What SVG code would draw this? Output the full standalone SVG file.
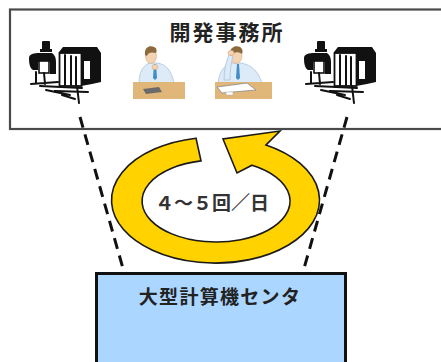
<svg xmlns="http://www.w3.org/2000/svg" width="441" height="362" viewBox="0 0 441 362">
  <style>
    .office { fill: #ffffff; stroke: #4a4a4a; stroke-width: 2.2; }
    .center { fill: #aad6ff; stroke: #111111; stroke-width: 3; }
    .link { fill: none; stroke: #111111; stroke-width: 3; stroke-dasharray: 11 7; }
    .cycle { fill: #ffd200; stroke: #1a1a1a; stroke-width: 1.6; stroke-linejoin: miter; }
    .label { font-family: "Noto Sans CJK JP", "Noto Sans", sans-serif; fill: #222222; text-anchor: middle; }
    .title { font-size: 21px; font-weight: bold; letter-spacing: 2px; }
    .rate { font-size: 19px; font-weight: bold; fill: #333333; }
    .ink { fill: #111111; }
    .ink-line { fill: none; stroke: #111111; stroke-width: 2; stroke-linecap: round; }
    .shirt { fill: #dcebf7; stroke: #a9c3da; stroke-width: 0.8; }
    .skin { fill: #f4d3b3; stroke: #d7a985; stroke-width: 0.6; }
    .hair { fill: #8c6a3d; }
    .tie { fill: #3f8cc6; }
    .desk { fill: #e0b679; }
  </style>
  <defs>
    <!-- workstation clip-art: operator on the left, monitor on the right -->
    <g id="workstation">
      <!-- operator -->
      <rect class="ink" x="42" y="41" width="8" height="9" rx="1"/>
      <rect class="ink" x="40" y="49" width="12" height="3"/>
      <path class="ink" d="M29,58 C29,54 34,53 40,53 L52,53 C55,55 56,58 56,62 L56,74 L50,74 L50,62 L38,62 L38,70 L33,70 C30,68 29,64 29,58 Z"/>
      <rect x="39" y="61" width="10" height="12" fill="#ffffff" stroke="#111" stroke-width="1.6"/>
      <path class="ink-line" d="M36,72 L36,83 M44,73 L45,84 M31,84 L58,82"/>
      <!-- keyboard / desk lines -->
      <path class="ink-line" stroke-width="1.5" d="M40,86 L82,88 M46,90 L70,95 M55,91 L88,92 M62,95 L75,99"/>
      <!-- monitor -->
      <path class="ink" d="M59,52 L63,47 L97,47 L101,53 L101,58 L82,58 L59,55 Z"/>
      <rect x="59.5" y="53" width="22" height="33" fill="#ffffff" stroke="#111" stroke-width="1.8"/>
      <path class="ink-line" stroke-width="1.6" d="M65,55 L65,85 M71,56 L71,85 M76,57 L76,85"/>
      <path class="ink" d="M81,57 L101,57 L101,82 L92,84 L81,86 Z"/>
      <rect x="84" y="61" width="6" height="18" fill="#ffffff"/>
      <!-- stand -->
      <path class="ink-line" stroke-width="2.6" d="M77,86 L79,103"/>
    </g>
  </defs>

  <!-- development office -->
  <g id="office">
    <rect class="office" x="10" y="9.5" width="440" height="119.5"/>
    <text class="label title" x="227" y="40">開発事務所</text>
    <use href="#workstation"/>
    <use href="#workstation" transform="translate(275,0)"/>
    <!-- engineer resting chin on hand -->
    <g id="engineer-left">
      <path class="shirt" d="M139,84 C139,72 143,65 150,63 L157,63 C166,64 172,71 174,84 Z"/>
      <path class="tie" d="M154,64 L156,64 L157,78 L155,80 L153,78 Z"/>
      <ellipse class="skin" cx="151" cy="56" rx="5.5" ry="7.5"/>
      <path class="hair" d="M145,55 C144,47 150,45 154,47 C157,48 157,51 156,53 C152,52 148,52 147,56 Z"/>
      <ellipse class="skin" cx="155" cy="67" rx="3" ry="2.6"/>
      <rect class="desk" x="133" y="82" width="52" height="17"/>
      <path fill="#6a6a6a" d="M143,89 L159,87 L162,92 L146,94 Z"/>
    </g>
    <!-- engineer with hand on forehead -->
    <g id="engineer-right">
      <path class="shirt" d="M218,84 C219,72 224,65 232,63 L241,63 C252,65 259,72 262,84 Z"/>
      <path class="tie" d="M237,64 L239,64 L240,78 L238,80 L236,78 Z"/>
      <ellipse class="skin" cx="236" cy="56" rx="6" ry="7.5"/>
      <path class="hair" d="M230,55 C229,47 236,45 240,47 C243,49 243,52 242,54 C238,51 233,52 232,56 Z"/>
      <path class="shirt" d="M224,80 C224,70 226,62 229,55 L233,56 C231,63 230,71 230,80 Z"/>
      <ellipse class="skin" cx="231" cy="53" rx="3" ry="2.6"/>
      <rect class="desk" x="215" y="82" width="57" height="17"/>
      <path fill="#ffffff" stroke="#8a8a8a" stroke-width="0.8" d="M217,87 L247,83 L256,90 L222,93 Z"/>
      <rect x="226" y="92" width="7" height="3" fill="#ffffff" stroke="#aaaaaa" stroke-width="0.5"/>
    </g>
  </g>

  <!-- data links between the office terminals and the computer centre -->
  <g id="connectors">
    <line class="link" x1="80" y1="117" x2="124" y2="272"/>
    <line class="link" x1="347" y1="117" x2="303" y2="272"/>
  </g>

  <!-- round-trip cycle -->
  <g id="cycle">
    <path class="cycle" d="M196,138.2 A104,63 0 1 0 266,145 L280,131 L223,139 L237,173 L252,165.2 A74,41 0 1 1 201,160.9 Z"/>
    <text class="label rate" x="212" y="210">４～５回／日</text>
  </g>

  <!-- large-scale computer centre -->
  <g id="computer-center">
    <rect class="center" x="96.5" y="273.5" width="249" height="100"/>
    <text class="label title" style="font-size:19px;letter-spacing:1.3px" x="220" y="304">大型計算機センタ</text>
  </g>
</svg>
